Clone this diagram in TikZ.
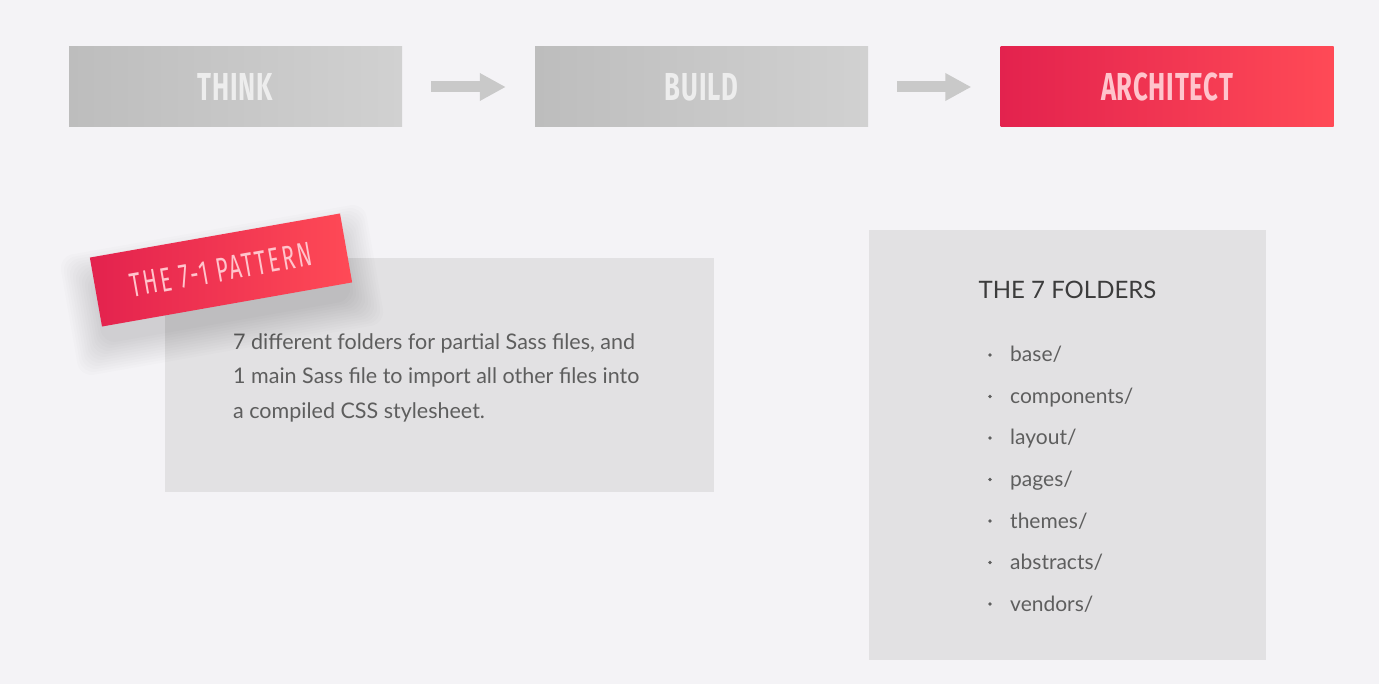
\documentclass[tikz,border=0pt]{standalone}
\usepackage{fontspec}
\setmainfont{Lato}
\newfontfamily\headfont[FakeStretch=0.66, LetterSpace=2]{Fira Sans}
\newfontfamily\tagfont[FakeStretch=0.62, LetterSpace=7]{Fira Sans}
\usetikzlibrary{arrows.meta}

\definecolor{bg}{HTML}{F4F3F6}
\definecolor{panel}{HTML}{E2E1E3}
\definecolor{greyL}{HTML}{BDBDBD}
\definecolor{greyR}{HTML}{D1D1D1}
\definecolor{redL}{HTML}{E3224E}
\definecolor{redR}{HTML}{FF4A56}
\definecolor{arrowgrey}{HTML}{C9C9C9}
\definecolor{bodytext}{HTML}{5E5E5E}
\definecolor{headtext}{HTML}{3C3C3C}
\definecolor{stagegreytext}{HTML}{EDEDED}
\definecolor{stageredtext}{HTML}{FFC4CC}

\tikzset{
  stagebox/.style={rectangle, minimum width=333pt, minimum height=80pt,
    inner sep=0pt, font=\headfont\fontseries{sb}\selectfont\fontsize{39}{39}\selectfont},
  greystage/.style={stagebox, left color=greyL, right color=greyR, text=stagegreytext},
  redstage/.style={stagebox, left color=redL, right color=redR, text=stageredtext},
  flowarrow/.style={draw=arrowgrey, line width=11pt, shorten <=29pt, shorten >=29pt,
    -{Triangle[length=26pt,width=26pt]}},
  panelbox/.style={rectangle, fill=panel, inner sep=0pt},
  tagbox/.style={rectangle, minimum width=254pt, minimum height=70pt, inner sep=0pt,
    left color=redL, right color=redR, text=stageredtext,
    font=\tagfont\fontsize{34}{34}\selectfont},
  bodyline/.style={anchor=base west, inner sep=0pt, text=bodytext,
    font=\fontsize{21.5}{21.5}\selectfont},
  itemline/.style={anchor=base west, inner sep=0pt, text=bodytext,
    font=\fontsize{21}{21}\selectfont},
  bulletdot/.style={circle, fill=bodytext, inner sep=0pt, minimum size=3.6pt}
}

\begin{document}
\begin{tikzpicture}[x=1pt, y=-1pt]
  % canvas
  \fill[bg] (0,0) rectangle (1379,684);
  \useasboundingbox (0,0) rectangle (1379,684);

  % stages of the workflow
  \node[greystage] (think) at (235.5,87) {THINK};
  \node[greystage] (build) at (701.5,87) {BUILD};
  \node[redstage]  (arch)  at (1167,87)  {ARCHITECT};
  \draw[flowarrow] (think) -- (build);
  \draw[flowarrow] (build) -- (arch);

  % description panel
  \node[panelbox, minimum width=549pt, minimum height=234pt] (desc) at (439.5,375) {};
  \foreach \txt [count=\i] in {7 different folders for partial Sass files{,} and,
      1 main Sass file to import all other files into,
      a compiled CSS stylesheet.} {
    \node[bodyline] (desc\i) at (233,{350+34*(\i-1)}) {\txt};
  }

  % soft shadow under the tag
  \begin{scope}[shift={(222,290)}, rotate=10]
    \foreach \k in {1,...,12} {
      \fill[black, opacity=0.011, rounded corners=14pt]
        (-124-2.6*\k,-30-2.6*\k) rectangle (124+2.6*\k,30+2.6*\k);
    }
  \end{scope}

  % tilted tag
  \node[tagbox, rotate=10] (tag) at (221,270) {THE 7-1 PATTERN};

  % folder list panel
  \node[panelbox, minimum width=397pt, minimum height=430pt] (folders) at (1067.5,445) {};
  \node[anchor=base, inner sep=0pt, text=headtext, font=\fontsize{24}{24}\selectfont]
    (ftitle) at (1067.5,299) {THE 7 FOLDERS};
  \foreach \name [count=\i] in {base/, components/, layout/, pages/, themes/, abstracts/, vendors/} {
    \node[bulletdot] (dot\i) at (990,{355+41.5*(\i-1)}) {};
    \node[itemline] (item\i) at (1010,{362+41.5*(\i-1)}) {\name};
  }
\end{tikzpicture}
\end{document}
